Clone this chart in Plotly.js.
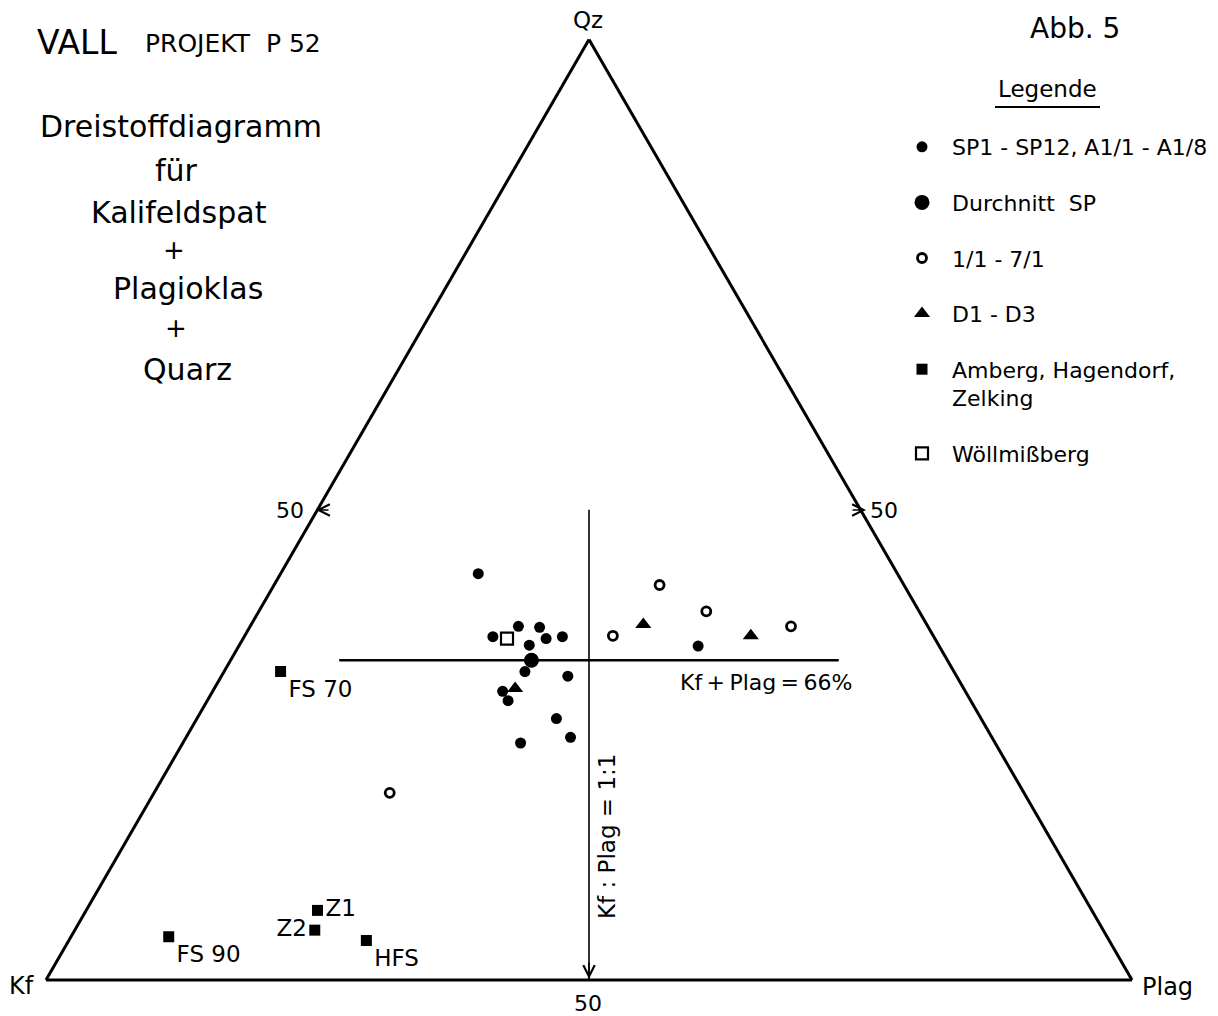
<!DOCTYPE html>
<html><head><meta charset="utf-8">
<script src="https://cdn.plot.ly/plotly-3.0.1.min.js"></script>
<style>html,body{margin:0;padding:0;background:#fff;}</style>
</head><body>
<div id="chart" style="width:1218px;height:1016px;"></div>
<script>
// ---- Data: ternary composition in % (Qz = top, Kf = left, Plag = right) ----
// SP1-SP12, A1/1-A1/8
const spQz   = [43.2, 36.5, 37.6, 37.5, 36.3, 36.5, 35.6, 32.8, 32.3, 30.7, 29.7, 27.8, 25.8, 25.2, 35.5];
const spKf   = [38.6, 40.6, 37.7, 35.8, 35.8, 34.2, 37.7, 39.5, 35.8, 42.6, 42.6, 39.1, 38.8, 43.7, 22.2];
const spPlag = [18.2, 22.9, 24.7, 26.7, 27.9, 29.3, 26.7, 27.7, 31.9, 26.7, 27.7, 33.1, 35.4, 31.1, 42.3];
// Durchschnitt SP
const avgQz = [34.0], avgKf = [38.3], avgPlag = [27.7];
// 1/1 - 7/1
const ocQz   = [36.6, 42.0, 39.2, 37.6, 19.9];
const ocKf   = [29.5, 22.5, 19.6, 12.6, 58.4];
const ocPlag = [33.9, 35.5, 41.2, 49.8, 21.7];
// D1 - D3
const dQz   = [31.0, 37.8, 36.6];
const dKf   = [41.3, 26.1, 16.8];
const dPlag = [27.7, 36.1, 46.6];
// Amberg, Hagendorf, Zelking
const sqLabels = ['FS 70', 'FS 90', 'Z1', 'Z2', 'HFS'];
const sqQz     = [32.8, 4.6, 7.4, 5.3, 4.2];
const sqKf     = [62.0, 86.4, 71.3, 72.6, 68.4];
const sqPlag   = [5.2, 9.0, 21.3, 22.1, 27.4];
const sqTextPos = ['bottom right', 'bottom right', 'middle right', 'middle left', 'bottom right'];
// Wöllmißberg
const wQz = [36.3], wKf = [39.4], wPlag = [24.3];
// Reference lines
const line66Qz = [34, 34], line66Kf = [56, 10], line66Plag = [10, 56];   // Kf + Plag = 66 %
const line11Qz = [50, 0],  line11Kf = [25, 50], line11Plag = [25, 50];   // Kf : Plag = 1 : 1

const FONT = 'DejaVu Sans, Arial, sans-serif';
const W = 1218, H = 1016;
const px = x => x / W;
const py = y => 1 - y / H;

const traces = [
  {type:'scatterternary', mode:'lines', a:line66Qz, b:line66Kf, c:line66Plag,
   line:{color:'black', width:2.5}, showlegend:false, hoverinfo:'skip'},
  {type:'scatterternary', mode:'lines', a:line11Qz, b:line11Kf, c:line11Plag,
   line:{color:'black', width:1.6}, showlegend:false, hoverinfo:'skip'},
  {type:'scatterternary', mode:'markers', name:'SP1 - SP12, A1/1 - A1/8',
   a:spQz, b:spKf, c:spPlag, legendgroup:'g1',
   marker:{symbol:'circle', size:11, color:'black'}},
  {type:'scatterternary', mode:'markers', name:'Durchnitt  SP',
   a:avgQz, b:avgKf, c:avgPlag, legendgroup:'g2',
   marker:{symbol:'circle', size:15, color:'black'}},
  {type:'scatterternary', mode:'markers', name:'1/1 - 7/1',
   a:ocQz, b:ocKf, c:ocPlag, legendgroup:'g3',
   marker:{symbol:'circle-open', size:9, color:'black', line:{width:2.8, color:'black'}}},
  {type:'scatterternary', mode:'markers', name:'D1 - D3',
   a:dQz, b:dKf, c:dPlag, legendgroup:'g4',
   marker:{symbol:'triangle-up', size:14, color:'black'}},
  {type:'scatterternary', mode:'markers+text', name:'Amberg, Hagendorf,<br>Zelking',
   a:sqQz, b:sqKf, c:sqPlag, text:sqLabels, textposition:sqTextPos, legendgroup:'g5',
   textfont:{family:FONT, size:23, color:'black'},
   marker:{symbol:'square', size:11, color:'black'}},
  {type:'scatterternary', mode:'markers', name:'Wöllmißberg',
   a:wQz, b:wKf, c:wPlag, legendgroup:'g6',
   marker:{symbol:'square-open', size:12, color:'black', line:{width:2.2, color:'black'}}}
];

const axisCommon = {
  title:{text:''}, showticklabels:false, ticks:'', showgrid:false,
  showline:true, linecolor:'black', linewidth:3, min:0
};

function txt(text, x, y, size, opts) {
  return Object.assign({text:text, x:px(x), y:py(y), xref:'paper', yref:'paper',
    xanchor:'center', yanchor:'middle', showarrow:false,
    font:{family:FONT, size:size, color:'black'}}, opts || {});
}
function arrow(x, y, ax, ay) {
  return {text:'', x:px(x), y:py(y), xref:'paper', yref:'paper', ax:ax, ay:ay,
    showarrow:true, arrowhead:5, arrowsize:1.4, arrowwidth:1.6, arrowcolor:'black'};
}

const annotations = [
  txt('VALL', 77, 42, 33),
  txt('PROJEKT  P 52', 233, 43, 25),
  txt('Dreistoffdiagramm', 181, 126, 30),
  txt('für', 176, 170, 30),
  txt('Kalifeldspat', 179, 213, 30),
  txt('+', 174, 250, 26),
  txt('Plagioklas', 188, 289, 30),
  txt('+', 176, 328, 26),
  txt('Quarz', 187, 369, 30),
  txt('Qz', 588, 20, 23),
  txt('Abb. 5', 1075, 29, 28),
  txt('Legende', 1047, 89, 23),
  txt('50', 290, 510, 22),
  txt('50', 884, 510, 22),
  txt('50', 588, 1003, 22),
  txt('Kf', 21, 986, 24),
  txt('Plag', 1167, 987, 24),
  txt('Kf\u2009+\u2009Plag\u2009=\u200966%', 766, 682, 22),
  txt('Kf : Plag = 1:1', 607, 837, 23, {textangle:-90}),
  arrow(316, 510, 14, 0),
  arrow(866, 510, -15, 0),
  arrow(589, 979, 0, -18)
];

const layout = {
  width:W, height:H,
  margin:{l:0, r:0, t:0, b:0},
  paper_bgcolor:'white', plot_bgcolor:'white',
  font:{family:FONT, color:'black'},
  ternary:{
    sum:100,
    domain:{x:[46/W, 1132/W], y:[(H-980)/H, (H-39.5)/H]},
    bgcolor:'rgba(0,0,0,0)',
    aaxis:Object.assign({}, axisCommon),
    baxis:Object.assign({}, axisCommon),
    caxis:Object.assign({}, axisCommon)
  },
  showlegend:true,
  legend:{x:px(892), y:py(126), xanchor:'left', yanchor:'top',
    bgcolor:'rgba(0,0,0,0)', borderwidth:0,
    font:{family:FONT, size:22, color:'black'},
    traceorder:'grouped', tracegroupgap:24, itemwidth:50, valign:'top',
    itemclick:false, itemdoubleclick:false},
  shapes:[
    {type:'line', xref:'paper', yref:'paper', x0:px(995), x1:px(1100), y0:py(107), y1:py(107),
     line:{color:'black', width:2}}
  ],
  annotations:annotations
};

Plotly.newPlot('chart', traces, layout, {displayModeBar:false, staticPlot:true});
</script>
</body></html>
